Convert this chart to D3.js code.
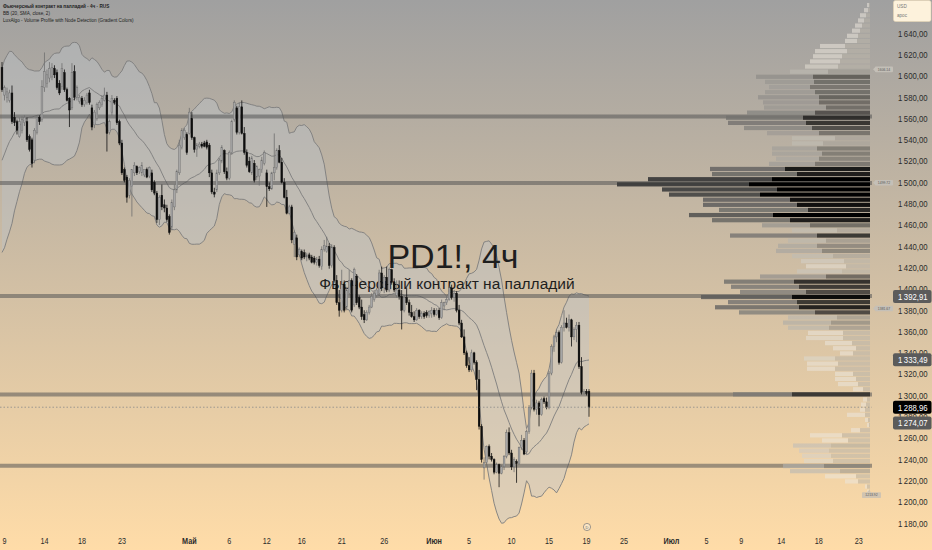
<!DOCTYPE html>
<html><head><meta charset="utf-8">
<script src="https://cdn.jsdelivr.net/npm/d3@7"></script>
<style>html,body{margin:0;padding:0;overflow:hidden;background:#fff}svg{display:block}</style>
</head><body><svg id="c" width="932" height="550"></svg>
<script>
// ---------- DATA ----------
const open = [
1608,1582,1580,1577,1584,1561,1557,1543,1549,1556,1557,1543,1540,1521,1547,1561,1559,1589,1593,1598,
1599,1607,1603,1593,1590,1603,1587,1579,1570,1604,1580,1576,1579,1573,1575,1584,1570,1554,1560,1570,1573,1577,1582,1547,1566,1577,1579,1557,
1537,1512,1505,1488,1496,1509,1515,1510,1509,1507,1512,1506,1509,1500,1490,1465,1488,1479,1476,1468,1458,1477,1493,1509,1533,1542,1545,1546,1560,1542,1531,1534,1536,1537,1538,
1535,1509,1491,1493,1509,1520,1530,1510,1504,1528,1559,1570,1547,1571,1546,1528,1520,1509,1518,1505,1506,1512,1518,1509,1496,1494,1509,1514,1530,1519,1500,1486,1471,1477,
1442,1448,1432,1435,1434,1430,1432,1430,1429,1425,1428,1421,1437,1435,1440,1422,1439,1408,1387,1380,1404,1383,1396,1408,1385,1412,1392,1383,1376,1371,1378,1383,1390,1394,1396,1415,1401,1411,1399,1418,1406,1394,1399,1393,1380,1392,1387,1378,1374,1371,1380,1374,1377,1378,1375,1377,1380,1376,1380,1373,1384,1387,1390,1401,1392,1396,1380,
1368,1355,1340,1328,1324,1340,1331,1315,1271,1232,1237,1252,1243,1240,1228,1235,1227,1233,1243,1265,1246,1233,1238,1236,1251,1258,1247,1266,1289,1321,1287,1293,1282,1297,1294,1289,1321,1346,1355,1359,1331,1364,1368,1364,1371,1355,1362,1366,1327,1303,1304,1304
];
const high = [
1613,1591,1589,1587,1591,1566,1559,1561,1562,1563,1561,1545,1542,1551,1563,1563,1596,1622,1606,1613,
1612,1610,1606,1596,1612,1606,1589,1580,1612,1610,1591,1582,1581,1580,1584,1587,1573,1568,1575,1577,1582,1589,1585,1559,1582,1579,1581,1559,
1540,1514,1507,1504,1512,1519,1516,1515,1519,1512,1514,1515,1512,1502,1492,1488,1498,1484,1479,1470,1484,1498,1512,1540,1551,1551,1547,1570,1566,1543,1537,1538,1538,1539,1540,
1537,1512,1495,1512,1523,1535,1531,1514,1530,1559,1577,1572,1575,1577,1552,1531,1524,1525,1521,1516,1513,1524,1530,1512,1500,1510,1546,1532,1535,1523,1504,1493,1479,1479,
1455,1451,1439,1437,1437,1434,1434,1432,1431,1430,1431,1440,1446,1449,1443,1442,1441,1413,1399,1418,1408,1402,1418,1410,1420,1414,1394,1390,1380,1380,1385,1396,1399,1401,1418,1421,1413,1421,1420,1419,1410,1408,1408,1399,1394,1401,1390,1385,1379,1382,1381,1379,1379,1380,1380,1383,1382,1382,1382,1390,1388,1393,1403,1404,1399,1398,1385,
1371,1362,1342,1336,1343,1341,1333,1324,1273,1242,1253,1254,1246,1241,1237,1236,1235,1244,1268,1270,1249,1242,1240,1252,1263,1260,1268,1291,1324,1324,1296,1295,1298,1299,1298,1323,1348,1357,1362,1361,1366,1380,1373,1376,1372,1364,1369,1369,1336,1306,1306,1306
];
const low = [
1585,1577,1575,1575,1555,1553,1545,1542,1546,1553,1538,1529,1514,1518,1545,1554,1557,1585,1589,1594,
1596,1598,1587,1582,1587,1585,1576,1552,1568,1577,1577,1574,1571,1571,1573,1573,1549,1551,1558,1568,1571,1576,1529,1545,1563,1573,1554,1535,
1507,1500,1481,1485,1468,1506,1507,1508,1506,1505,1504,1504,1491,1488,1462,1460,1474,1472,1463,1451,1455,1474,1490,1507,1531,1540,1526,1545,1540,1528,1524,1532,1532,1533,1531,
1505,1489,1486,1491,1507,1518,1508,1502,1502,1526,1557,1545,1545,1545,1526,1514,1509,1507,1500,1502,1497,1509,1516,1477,1492,1493,1502,1512,1518,1499,1485,1470,1470,1443,
1430,1427,1430,1427,1428,1426,1427,1424,1423,1422,1420,1418,1435,1434,1419,1420,1406,1385,1374,1378,1378,1380,1394,1378,1383,1385,1381,1371,1368,1370,1376,1382,1388,1392,1394,1398,1396,1397,1397,1404,1397,1392,1390,1362,1378,1385,1375,1373,1369,1370,1372,1372,1372,1373,1373,1373,1374,1375,1371,1372,1380,1385,1389,1390,1388,1378,1366,
1354,1338,1326,1322,1322,1329,1305,1268,1237,1221,1236,1240,1238,1226,1227,1213.9,1226,1230,1241,1244,1230,1228,1218,1235,1249,1244,1245,1264,1287,1285,1282,1271,1281,1292,1287,1287,1319,1341,1350,1329,1330,1360,1363,1360,1346,1352,1350,1325,1301,1301,1300,1280
];
const close = [
1587,1589,1585,1584,1557,1556,1549,1557,1559,1561,1540,1531,1518,1549,1561,1557,1590,1604,1601,1607,
1608,1601,1589,1584,1607,1587,1577,1568,1603,1580,1589,1580,1573,1577,1582,1575,1552,1566,1573,1575,1579,1582,1546,1557,1579,1575,1556,1537,
1509,1502,1486,1502,1512,1516,1509,1514,1516,1512,1505,1514,1493,1490,1465,1486,1477,1476,1465,1453,1481,1493,1510,1535,1549,1549,1528,1566,1542,1531,1535,1536,1534,1534,1533,
1509,1491,1489,1509,1521,1533,1510,1504,1528,1557,1575,1547,1571,1546,1528,1516,1510,1523,1502,1515,1512,1521,1528,1496,1494,1509,1514,1530,1519,1500,1486,1471,1477,1446,
1453,1430,1437,1429,1430,1432,1429,1425,1425,1428,1422,1437,1441,1440,1422,1439,1408,1387,1380,1404,1380,1399,1408,1380,1418,1387,1383,1374,1371,1378,1383,1393,1396,1399,1415,1401,1411,1399,1418,1406,1399,1399,1393,1380,1392,1387,1378,1374,1371,1380,1374,1377,1374,1375,1379,1380,1376,1380,1373,1387,1387,1390,1401,1392,1396,1380,1368,
1355,1340,1328,1324,1340,1331,1315,1271,1240,1237,1252,1243,1240,1228,1235,1227,1233,1243,1265,1246,1233,1240,1236,1251,1258,1245,1266,1289,1321,1287,1293,1282,1296,1294,1289,1321,1346,1355,1359,1331,1364,1368,1364,1371,1355,1362,1366,1327,1303,1304,1302,1288.96
];
// closes of the 19 bars before the visible window (for BB warm-up)
const priorCloses = [1470,1462,1475,1480,1468,1485,1490,1502,1498,1510,1520,1515,1532,1545,1552,1560,1575,1590,1600];

const timeLabels = ["9","14","18","23","Май","6","12","16","21","26","Июн","5","10","15","19","25","Июл","5","9","14","18","23"];
const timeBars   = [1,17,32,48,75,91,106,120,136,153,173,187,204,219,234,249,268,282,296,312,327,343];
const monthLabels = ["Май","Июн","Июл"];

const priceTicks = d3.range(1180, 1641, 20);
const levels = [1562, 1499.5, 1393.5, 1301, 1234];

const bbUpperLast = 1392.91, bbBasisLast = 1333.49, bbLowerLast = 1274.07, lastPrice = 1288.96;

// volume profile rows, top (high price) to bottom
const profHigh = 1668.9, profLow = 1207.3;
const profTotal = [3,6,10,12,15,18,23,25,50,55,57,60,65,80,114,105,101,105,112,107,106,123,144,142,126,103,78,78,98,98,94,101,160,158,222,253,208,201,167,167,151,181,158,108,78,140,82,92,94,78,69,64,73,110,146,139,130,169,142,155,131,82,87,82,62,64,45,37,30,66,63,63,35,35,32,17,137,7,9,10,23,5,3,19,60,48,77,71,68,66,87,80,45,25,5,3];
const profDark  = [1,2,4,6,8,10,12,13,25,23,28,30,32,42,57,56,60,55,51,51,44,55,67,64,58,51,35,47,53,48,51,55,85,73,98,121,93,110,80,73,62,97,80,60,33,53,44,53,48,37,26,24,28,44,76,71,64,78,73,71,55,33,39,41,27,27,18,14,17,35,32,35,17,14,12,7,78,3,4,5,5,2,1,10,28,22,39,41,39,37,46,30,14,12,3,1];
const nodeLabels = [1606.14, 1499.72, 1381.67];
const profileLowLabel = 1213.92;

// ---------- CHART ----------
const W = 932, H = 550, plotR = 872, profR = 870;
const N = close.length;
const svg = d3.select('#c');
const defs = svg.append('defs');
const g0 = defs.append('linearGradient').attr('id','bg').attr('x1',0).attr('y1',0).attr('x2',0).attr('y2',1);
g0.append('stop').attr('offset','0%').attr('stop-color','#a0a0a0');
g0.append('stop').attr('offset','100%').attr('stop-color','#ffdca8');
svg.append('rect').attr('width',W).attr('height',H).attr('fill','url(#bg)');

const y = d3.scaleLinear().domain([1180,1640]).range([523.3,33.3]);
const x = d3.scaleLinear().domain([0,N-1]).range([2,589]);
const step = x(1)-x(0);
const fmt = d3.formatLocale({decimal:",",thousands:"\u2009",grouping:[3],currency:["",""]}).format(",.2f");

// Bollinger Bands (20, SMA, close, 2)
const all = priorCloses.concat(close);
const bb = close.map((c,i)=>{
  const j = i + priorCloses.length;
  const w = all.slice(j-19, j+1);
  const m = d3.mean(w);
  const sd = Math.sqrt(d3.mean(w, v=>(v-m)*(v-m)));
  return {i, m, u:m+2*sd, l:m-2*sd};
});
svg.append('path').datum(bb).attr('fill','rgba(188,195,202,0.42)')
  .attr('d', d3.area().x(d=>x(d.i)).y0(d=>y(d.l)).y1(d=>y(d.u)));
['u','m','l'].forEach(k=>{
  svg.append('path').datum(bb).attr('fill','none').attr('stroke','#7d7d7d').attr('stroke-width',0.9)
    .attr('d', d3.line().x(d=>x(d.i)).y(d=>y(d[k])));
});

// horizontal levels
svg.selectAll('line.lvl').data(levels).enter().append('line').attr('class','lvl')
  .attr('x1',0).attr('x2',plotR).attr('y1',d=>y(d)).attr('y2',d=>y(d))
  .attr('stroke','rgba(85,85,85,0.55)').attr('stroke-width',4);

// watermark
svg.append('text').attr('x',453).attr('y',268).attr('text-anchor','middle')
  .attr('font-family','Liberation Sans, Arial, sans-serif').attr('font-size',34).attr('fill','#1e1e1e').text('PD1!, 4ч');
svg.append('text').attr('x',447).attr('y',289).attr('text-anchor','middle')
  .attr('font-family','Liberation Sans, Arial, sans-serif').attr('font-size',15.5).attr('fill','#1e1e1e').text('Фьючерсный контракт на палладий');

// volume profile (gradient colours by relative volume)
const rowStep = (profHigh - profLow)/profTotal.length;
const vmax = d3.max(profTotal);
const vw = d3.scaleLinear().domain([0, vmax]).range([0, 253]);
const sD = d3.scaleLinear().domain([0.3, 0.7]).range([0,1]).clamp(true);
const sL = d3.scaleLinear().domain([0.25, 0.85]).range([0,1]).clamp(true);
const darkC = d3.interpolateRgb('rgba(185,180,170,0.55)','rgba(0,0,0,1)');
const lightC = d3.interpolateRgb('rgba(235,230,220,0.55)','rgba(60,60,60,0.95)');
const prof = svg.append('g');
profTotal.forEach((t,i)=>{
  const pTop = profHigh - i*rowStep;
  const y0 = y(pTop) + 0.45, h = y(pTop-rowStep) - y(pTop) - 0.9;
  const r = t / vmax;
  const wt = vw(t), wd = vw(profDark[i]);
  prof.append('rect').attr('x',profR-wt).attr('y',y0).attr('width',wt-wd).attr('height',h)
    .attr('fill',lightC(Math.pow(sL(r),0.6)));
  prof.append('rect').attr('x',profR-wd).attr('y',y0).attr('width',wd).attr('height',h)
    .attr('fill',darkC(Math.pow(sD(r),0.6)));
});

// candles
const cg = svg.append('g');
const bw = Math.max(1, step*0.72);
close.forEach((c,i)=>{
  const up = c >= open[i];
  const xc = x(i);
  cg.append('line').attr('x1',xc).attr('x2',xc).attr('y1',y(high[i])).attr('y2',y(low[i]))
    .attr('stroke', up ? '#6e6e6e' : '#111').attr('stroke-width',0.8);
  const yt = y(Math.max(open[i],c)), yb = y(Math.min(open[i],c));
  cg.append('rect').attr('x',xc-bw/2).attr('y',yt).attr('width',bw).attr('height',Math.max(0.8,yb-yt))
    .attr('fill', up ? '#a6a6a6' : '#0e0e0e').attr('stroke', up ? '#6a6a6a' : '#0e0e0e').attr('stroke-width',0.4);
});

// last price line
svg.append('line').attr('x1',0).attr('x2',plotR).attr('y1',y(lastPrice)).attr('y2',y(lastPrice))
  .attr('stroke','#8a8a8a').attr('stroke-width',0.8).attr('stroke-dasharray','1.5,2');

// profile node labels
const nl = svg.append('g');
nodeLabels.forEach(v=>{
  nl.append('path').attr('d',`M873,${y(v)} l2.5,-2.5 v5 z`).attr('fill','rgba(196,192,184,0.95)');
  nl.append('rect').attr('x',875).attr('y',y(v)-2.8).attr('width',18).attr('height',5.6).attr('rx',0.8).attr('fill','rgba(196,192,184,0.95)');
  nl.append('text').attr('x',884).attr('y',y(v)+1.2).attr('text-anchor','middle').attr('font-size',3.4)
    .attr('font-family','Liberation Sans, Arial').attr('fill','#555').text(v.toFixed(2));
});
{
  const yy = y(profileLowLabel) + 8;
  nl.append('path').attr('d',`M869,${yy-5} l2.5,2.5 h-5 z`).attr('fill','rgba(205,195,178,0.95)');
  nl.append('rect').attr('x',862).attr('y',yy-2.8).attr('width',19).attr('height',5.6).attr('rx',0.8).attr('fill','rgba(205,195,178,0.95)');
  nl.append('text').attr('x',871.5).attr('y',yy+1.2).attr('text-anchor','middle').attr('font-size',3.4)
    .attr('font-family','Liberation Sans, Arial').attr('fill','#555').text(profileLowLabel.toFixed(2));
}

// price axis labels
const ax = svg.append('g').attr('font-family','Liberation Sans, Arial, sans-serif').attr('font-size',9);
priceTicks.forEach(v=>{
  ax.append('text').attr('x',898).attr('y',y(v)+3.3).attr('text-anchor','start').attr('fill','#2b2b2b')
    .attr('textLength',29.5).attr('lengthAdjust','spacingAndGlyphs').text(fmt(v));
});
// value boxes
[[bbUpperLast,'#5b5b5b'],[bbBasisLast,'#5b5b5b'],[bbLowerLast,'#5b5b5b'],[lastPrice,'#000']].forEach(([v,col])=>{
  ax.append('rect').attr('x',893).attr('y',y(v)-6.5).attr('width',38.5).attr('height',13).attr('rx',2).attr('fill',col);
  ax.append('text').attr('x',898).attr('y',y(v)+3.3).attr('text-anchor','start').attr('fill','#fff')
    .attr('textLength',29.5).attr('lengthAdjust','spacingAndGlyphs').text(fmt(v));
});

// time axis
const tx = svg.append('g').attr('font-family','Liberation Sans, Arial, sans-serif').attr('font-size',9.5).attr('fill','#2b2b2b');
timeLabels.forEach((lab,k)=>{
  const t = tx.append('text').attr('x',x(timeBars[k])).attr('y',543.5).attr('text-anchor','middle')
    .attr('font-weight', monthLabels.includes(lab) ? 'bold' : 'normal').text(lab);
  const L = t.node().getComputedTextLength();
  t.attr('textLength',L*0.76).attr('lengthAdjust','spacingAndGlyphs');
});
// small event marker
svg.append('circle').attr('cx',x(N-1)-2).attr('cy',527).attr('r',3.6).attr('fill','#fbe6c6').attr('stroke','#777').attr('stroke-width',0.7);
svg.append('text').attr('x',x(N-1)-2).attr('y',528.6).attr('text-anchor','middle').attr('font-size',4)
  .attr('font-family','Liberation Sans, Arial').attr('fill','#666').text('D');

// header legend
const hd = svg.append('g').attr('font-family','Liberation Sans, Arial, sans-serif').attr('font-size',5.6).attr('fill','#222');
[['Фьючерсный контракт на палладий · 4ч · RUS','bold',7.5],['BB (20, SMA, close, 2)','normal',14.8],['LuxAlgo - Volume Profile with Node Detection (Gradient Colors)','normal',22]].forEach(([s,fw,yy])=>{
  const t = hd.append('text').attr('x',3).attr('y',yy).attr('font-weight',fw).text(s);
  const L = t.node().getComputedTextLength();
  t.attr('textLength',L*0.83).attr('lengthAdjust','spacingAndGlyphs');
});

// currency box
svg.append('rect').attr('x',893.5).attr('y',0.5).attr('width',37.5).attr('height',21).attr('rx',2)
  .attr('fill','#fdf2dc').attr('stroke','#e6d5b3').attr('stroke-width',0.6);
svg.append('text').attr('x',897).attr('y',8).attr('font-size',4.6).attr('font-family','Liberation Sans, Arial').attr('fill','#777').text('USD');
svg.append('text').attr('x',897).attr('y',16.5).attr('font-size',4.6).attr('font-family','Liberation Sans, Arial').attr('fill','#777').text('арос');
</script>
</body></html>
